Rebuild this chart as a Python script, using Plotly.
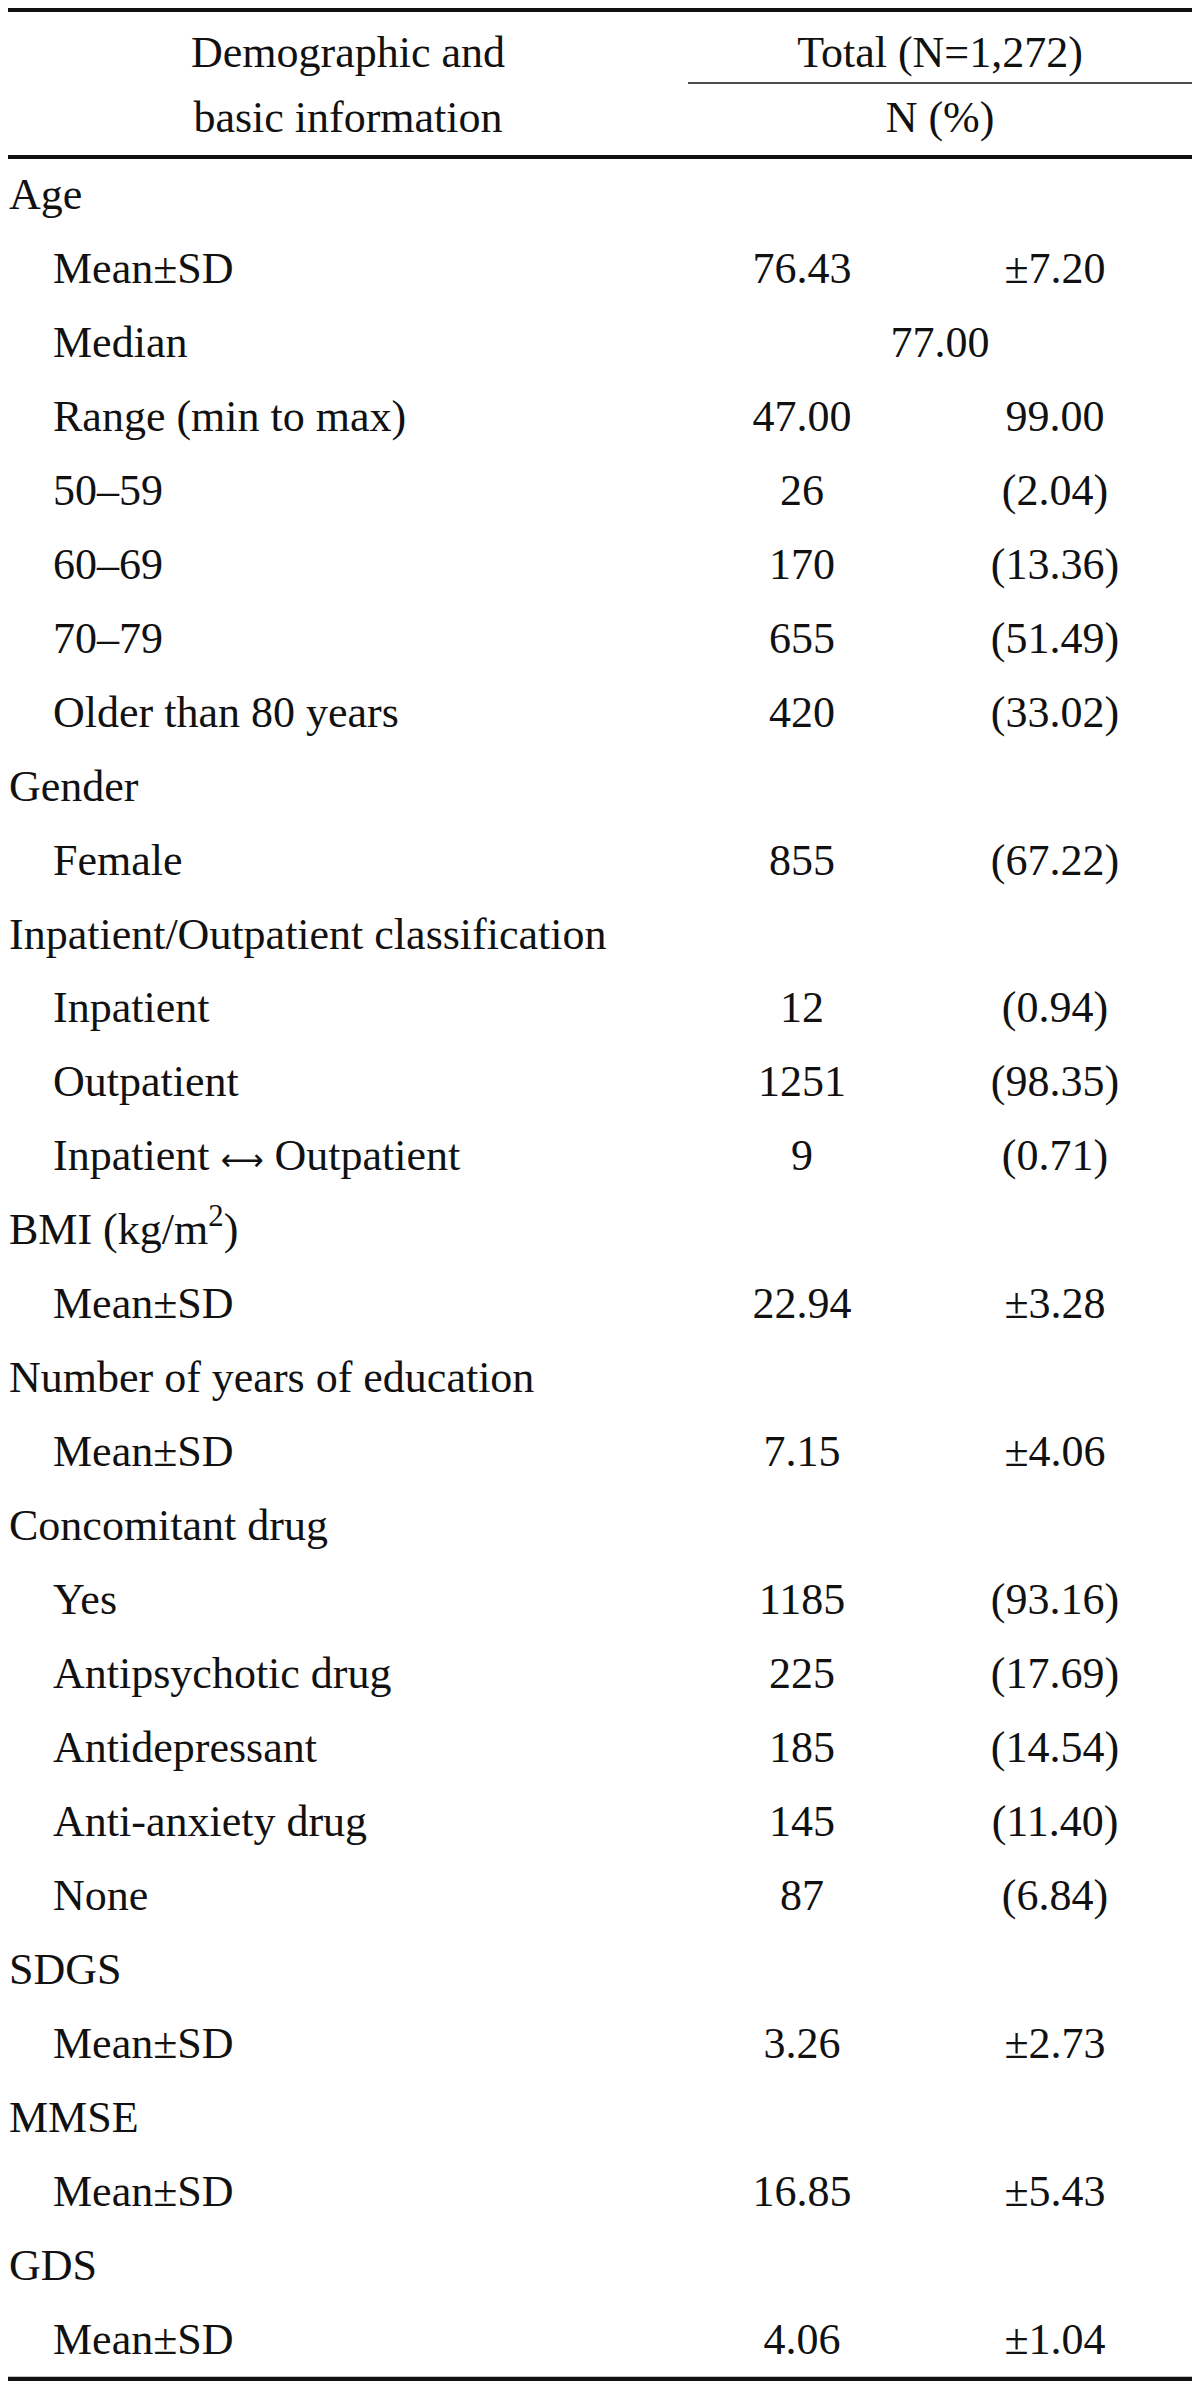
import plotly.graph_objects as go

# ---- table content ----
header_left = ["Demographic and", "basic information"]
header_total = "Total (N=1,272)"
header_sub = "N (%)"

ARROW = '<span style="font-family:DejaVu Sans;font-size:30px">⟷</span>'
labels = ["Age", "Mean±SD", "Median", "Range (min to max)", "50–59", "60–69", "70–79",
          "Older than 80 years", "Gender", "Female", "Inpatient/Outpatient classification",
          "Inpatient", "Outpatient", "Inpatient " + ARROW + " Outpatient", "BMI (kg/m<sup>2</sup>)",
          "Mean±SD", "Number of years of education", "Mean±SD", "Concomitant drug", "Yes",
          "Antipsychotic drug", "Antidepressant", "Anti-anxiety drug", "None", "SDGS",
          "Mean±SD", "MMSE", "Mean±SD", "GDS", "Mean±SD"]
indent = [0, 1, 1, 1, 1, 1, 1, 1, 0, 1, 0, 1, 1, 1, 0, 1, 0, 1, 0, 1, 1, 1, 1, 1, 0, 1, 0, 1, 0, 1]
col_n = ["", "76.43", "", "47.00", "26", "170", "655", "420", "", "855", "", "12", "1251", "9",
         "", "22.94", "", "7.15", "", "1185", "225", "185", "145", "87", "", "3.26", "",
         "16.85", "", "4.06"]
col_pct = ["", "±7.20", "", "99.00", "(2.04)", "(13.36)", "(51.49)", "(33.02)", "", "(67.22)",
           "", "(0.94)", "(98.35)", "(0.71)", "", "±3.28", "", "±4.06", "", "(93.16)",
           "(17.69)", "(14.54)", "(11.40)", "(6.84)", "", "±2.73", "", "±5.43", "", "±1.04"]
spanned = {2: "77.00"}  # median spans both columns

# ---- layout geometry (page pixel coordinates) ----
W, H = 1200, 2389
PAD = 8  # default body margin of the html page
FONT = "Liberation Serif, Times New Roman, serif"
FS = 44
row0, dy = 198, 73.95
x_left, x_ind = 9, 53
x_c1, x_c2, x_span = 802, 1055, 940
line_x0, line_x1 = 8, 1192

ys = [row0 + i * dy for i in range(len(labels))]

fig = go.Figure()
tf = dict(family=FONT, size=FS, color="#111111")

# left labels
rows = [(x_ind if ind else x_left, y, t) for ind, y, t in zip(indent, ys, labels)]
fig.add_trace(go.Scatter(
    x=[r[0] for r in rows], y=[r[1] for r in rows], text=[r[2] for r in rows],
    mode="text", textposition="middle right", textfont=tf, hoverinfo="skip"))

# N column
n_rows = [(y, t) for y, t in zip(ys, col_n) if t]
fig.add_trace(go.Scatter(
    x=[x_c1] * len(n_rows), y=[r[0] for r in n_rows], text=[r[1] for r in n_rows],
    mode="text", textposition="middle center", textfont=tf, hoverinfo="skip"))

# % column
p_rows = [(y, t) for y, t in zip(ys, col_pct) if t]
fig.add_trace(go.Scatter(
    x=[x_c2] * len(p_rows), y=[r[0] for r in p_rows], text=[r[1] for r in p_rows],
    mode="text", textposition="middle center", textfont=tf, hoverinfo="skip"))

# spanned cells
fig.add_trace(go.Scatter(
    x=[x_span] * len(spanned), y=[ys[i] for i in spanned], text=list(spanned.values()),
    mode="text", textposition="middle center", textfont=tf, hoverinfo="skip"))

# header
fig.add_trace(go.Scatter(
    x=[348, 348, x_span, x_span], y=[56, 121, 56, 121],
    text=header_left + [header_total, header_sub], mode="text", textposition="middle center",
    textfont=tf, hoverinfo="skip"))

# rules
for y, x0, w in [(10, line_x0, 4), (157, line_x0, 4), (2379, line_x0, 4.5), (83, 688, 1.5)]:
    fig.add_shape(type="line", x0=x0, x1=line_x1, y0=y, y1=y, xref="x", yref="y",
                  line=dict(color="#111111", width=w))

fig.update_layout(
    width=W - 2 * PAD, height=H - 2 * PAD, margin=dict(l=0, r=0, t=0, b=0),
    paper_bgcolor="white", plot_bgcolor="white", showlegend=False,
    xaxis=dict(range=[PAD, W - PAD], visible=False, fixedrange=True),
    yaxis=dict(range=[H - PAD, PAD], visible=False, fixedrange=True),
)

fig.write_html("out.html")
